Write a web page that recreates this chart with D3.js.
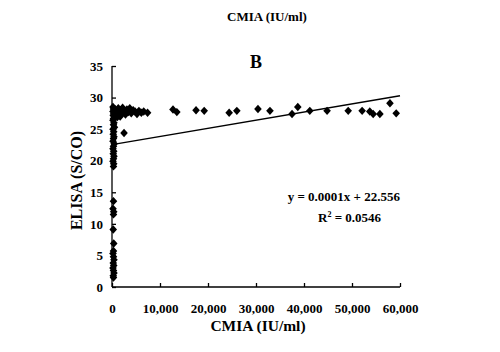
<!DOCTYPE html>
<html>
<head>
<meta charset="utf-8">
<script src="https://cdn.jsdelivr.net/npm/d3@7"></script>
<style>
  body { margin: 0; background: #fff; }
  svg text { font-family: "Liberation Serif", "Times New Roman", serif; font-weight: bold; fill: #000; }
</style>
</head>
<body>
<div id="chart"></div>
<script>
// CMIA (IU/ml) vs ELISA (S/CO)
const cmia = [
  // points sitting on the y axis
  0, 100, 200, 0, 150, 50, 250, 100, 0, 200, 100, 300, 0, 150, 50, 200, 100, 0, 250, 100,
  0, 150, 50, 200, 100, 0, 150, 100,
  100, 0, 150, 100, 50, 150, 100, 0, 100, 200, 50, 150, 0, 100, 200, 50, 100,
  // low cluster
  400, 700, 900, 1100, 1300, 1600, 1800, 2000, 2300, 2600, 2900, 3200, 3500, 3800, 4200,
  4600, 5000, 5400, 5900, 6400, 7200, 2300, 900, 1500,
  // spread out
  12500, 13300, 17300, 19000, 24200, 25800, 30200, 32700, 37300, 38500, 41000, 44600,
  49000, 51900, 53500, 54200, 55600, 57700, 59000
];
const elisa = [
  28.5, 28.2, 28.0, 27.8, 27.5, 27.2, 27.0, 26.7, 26.4, 26.0, 25.7, 25.3, 25.0, 24.6, 24.2, 23.8, 23.5, 23.1, 22.7, 22.3,
  21.9, 21.5, 21.1, 20.7, 20.3, 19.9, 19.5, 19.1,
  13.6, 12.4, 11.9, 11.5, 9.1, 6.9, 5.7, 5.3, 4.8, 4.3, 3.8, 3.4, 3.0, 2.6, 2.2, 1.8, 1.5,
  28.2, 27.8, 27.4, 28.3, 27.2, 28.0, 27.6, 28.4, 27.9, 27.3, 28.1, 27.7, 28.3, 27.5, 28.0,
  27.8, 27.4, 27.9, 27.6, 27.8, 27.6, 24.4, 26.9, 27.0,
  28.1, 27.7, 28.0, 27.9, 27.6, 27.9, 28.2, 27.9, 27.4, 28.5, 27.9, 27.9,
  27.9, 27.9, 27.8, 27.4, 27.4, 29.1, 27.5
];
const xTicks = [0, 10000, 20000, 30000, 40000, 50000, 60000];
const yTicks = [0, 5, 10, 15, 20, 25, 30, 35];
const trend = { slope: 0.000129, intercept: 22.556 };
const equationLabel = "y = 0.0001x + 22.556";
const r2Value = "0.0546";
const panelLabel = "B";
const xTitle = "CMIA (IU/ml)";
const yTitle = "ELISA (S/CO)";

const width = 500;
const height = 352;
const margin = { top: 66, right: 100, bottom: 65, left: 112 };

const x = d3.scaleLinear().domain([0, 60000]).range([margin.left, width - margin.right]);
const y = d3.scaleLinear().domain([0, 35]).range([height - margin.bottom, margin.top]);

const svg = d3.select("#chart").append("svg")
  .attr("width", width)
  .attr("height", height)
  .attr("viewBox", [0, 0, width, height]);

// top heading
svg.append("text")
  .attr("x", 267).attr("y", 21)
  .attr("text-anchor", "middle")
  .attr("font-size", 13)
  .text(xTitle);

svg.append("text")
  .attr("x", 256).attr("y", 68)
  .attr("text-anchor", "middle")
  .attr("font-size", 18)
  .text(panelLabel);

// axes, ticks inside
const xAxis = d3.axisBottom(x).tickValues(xTicks).tickSize(-4).tickPadding(17)
  .tickFormat(d3.format(","));
const yAxis = d3.axisLeft(y).tickValues(yTicks).tickSize(-4).tickPadding(9);

const gx = svg.append("g")
  .attr("transform", `translate(0,${y(0)})`)
  .call(xAxis);
const gy = svg.append("g")
  .attr("transform", `translate(${x(0)},0)`)
  .call(yAxis);

[gx, gy].forEach((g) => {
  g.select(".domain").attr("stroke", "#000").attr("stroke-width", 1.3);
  g.selectAll(".tick line").attr("stroke", "#000").attr("stroke-width", 1.3);
  g.selectAll(".tick text")
    .attr("font-size", 13)
    .attr("font-family", "Liberation Serif, serif")
    .attr("font-weight", "bold")
    .attr("fill", "#000");
});
gx.select(".domain").attr("d", `M${x(0)},0H${x(60000)}`);
gy.select(".domain").attr("d", `M0,${y(0)}V${y(35)}`);

svg.append("text")
  .attr("x", 258).attr("y", 331)
  .attr("text-anchor", "middle")
  .attr("font-size", 15.5)
  .text(xTitle);

svg.append("text")
  .attr("transform", `translate(82,${(y(0) + y(35)) / 2 + 4}) rotate(-90)`)
  .attr("text-anchor", "middle")
  .attr("font-size", 16)
  .text(yTitle);

// points
const diamond = "M0,-4.2L3.8,0L0,4.2L-3.8,0Z";
svg.append("g")
  .selectAll("path")
  .data(d3.range(cmia.length))
  .join("path")
  .attr("d", diamond)
  .attr("fill", "#000")
  .attr("transform", (i) => `translate(${x(cmia[i]) + 1},${y(elisa[i])})`);

// trend line
svg.append("line")
  .attr("x1", x(0)).attr("y1", y(trend.intercept))
  .attr("x2", x(60000)).attr("y2", y(trend.intercept + trend.slope * 60000))
  .attr("stroke", "#000")
  .attr("stroke-width", 1.4);

// equation
svg.append("text")
  .attr("x", 400).attr("y", 201)
  .attr("text-anchor", "end")
  .attr("font-size", 13)
  .text(equationLabel);

const r2 = svg.append("text")
  .attr("x", 318).attr("y", 222)
  .attr("font-size", 13);
r2.append("tspan").text("R");
r2.append("tspan").attr("font-size", 8).attr("dy", -5).text("2");
r2.append("tspan").attr("dy", 5).text(" = " + r2Value);
</script>
</body>
</html>
